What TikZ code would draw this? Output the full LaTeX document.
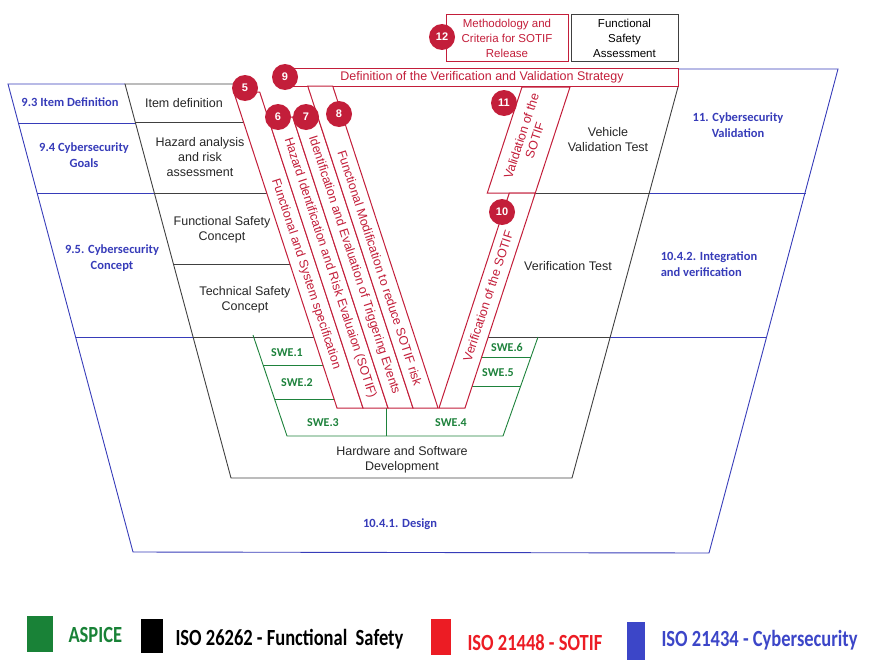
\documentclass[tikz,border=0pt]{standalone}
\usepackage{graphicx}
\usepackage{fontspec}
\setmainfont{Liberation Sans}
\newfontfamily\calfont{Carlito}
\usepackage{tikz}
\usetikzlibrary{positioning}

\definecolor{sotifred}{RGB}{195,30,58}
\definecolor{cybblue}{RGB}{55,60,185}
\definecolor{aspgreen}{RGB}{30,130,60}
\definecolor{legred}{RGB}{236,28,36}
\definecolor{legblue}{RGB}{60,70,200}
\definecolor{leggreen}{RGB}{25,130,55}
\newcommand{\tallify}[1]{\scalebox{1}[1.25]{#1}}

\begin{document}
\begin{tikzpicture}[x=1pt, y=-1pt,
    cyb/.style={draw=cybblue, line width=0.9pt},
    fusa/.style={draw=black!75, line width=0.9pt},
    asp/.style={draw=aspgreen, line width=0.9pt},
    bar/.style={draw=sotifred, line width=1pt, fill=white},
    num/.style={circle, fill=sotifred, minimum size=26pt, inner sep=0pt, text=white, font=\fontsize{11}{11}\selectfont\bfseries},
    fusatext/.style={align=center, text=black!85, font=\fontsize{12.5}{15}\selectfont},
    cybtext/.style={align=center, text=cybblue, font=\calfont\bfseries\fontsize{12.5}{15.5}\selectfont},
    asptext/.style={text=aspgreen, font=\calfont\bfseries\fontsize{12}{13}\selectfont},
    bartext/.style={align=center, text=sotifred, inner sep=0pt, font=\fontsize{12.5}{14}\selectfont},
    legtext/.style={anchor=west, font=\calfont\bfseries\fontsize{18.5}{19}\selectfont}
]
\useasboundingbox (0,0) rectangle (874,669);

% ISO 21434 frame
\draw[cyb] (125,84) -- (8,84) -- (133,552) -- (709,553) -- (838,69) -- (678,69);
\draw[cyb] (18,123) -- (135,123);
\draw[cyb] (37,193) -- (154,193);
\draw[cyb] (76,337) -- (193,337);
\draw[cyb] (650,193) -- (806,193);
\draw[cyb] (610,337) -- (767,337);

% ISO 26262 V
\draw[fusa] (234,84) -- (125,84) -- (231,478) -- (572,478) -- (678,87);
\draw[fusa] (135,122) -- (243,122);
\draw[fusa] (155,193) -- (267,193);
\draw[fusa] (174,264) -- (290,264);
\draw[fusa] (193,337) -- (314,337);
\draw[fusa] (535,193) -- (650,193);
\draw[fusa] (488,337) -- (610,337);

% ASPICE
\draw[asp] (253,335) -- (287,436) -- (503,436) -- (538,337);
\draw[asp] (263,365) -- (323,365);
\draw[asp] (275,399) -- (334,399);
\draw[asp] (386,408) -- (386,436);
\draw[asp] (482,357) -- (531,357);
\draw[asp] (472,386) -- (521,386);

% ISO 21448 bars
\draw[bar] (285,68) rectangle (678,86);
\draw[bar] (233.7,92) -- (259.7,92) -- (363,408) -- (337,408) -- cycle;
\draw[bar] (267.8,117) -- (292.8,117) -- (388,408) -- (363,408) -- cycle;
\draw[bar] (292.8,117) -- (317.8,117) -- (413,408) -- (388,408) -- cycle;
\draw[bar] (307.7,86) -- (332.7,86) -- (438,408) -- (413,408) -- cycle;
\draw[bar] (522,87) -- (570,87) -- (535.3,193) -- (487.3,193) -- cycle;
\draw[bar] (509.3,193) -- (535.3,193) -- (465,408) -- (439,408) -- cycle;

\node[bartext] (strategy) at (482,77) {Definition of the Verification and Validation Strategy};
\node[bartext, rotate=-71.9] (spec) at (306,274) {Functional and System specification};
\node[bartext, rotate=-71.9] (hara) at (330,268) {Hazard Identification and Risk Evaluaion (SOTIF)};
\node[bartext, rotate=-71.9] (trig) at (354,265) {Identification and Evaluation of Triggering Events};
\node[bartext, rotate=-71.9] (modif) at (380,268) {Functional Modification to reduce SOTIF risk};
\node[bartext, rotate=71.9] (verif) at (488,296) {Verification of the SOTIF};
\node[bartext, rotate=71.9] (valid) at (528,138) {Validation of the\\SOTIF};

\node[num] (n5) at (245,88) {5};
\node[num] (n6) at (278,117) {6};
\node[num] (n7) at (306,117) {7};
\node[num] (n8) at (339,114) {8};
\node[num] (n9) at (285,77) {9};
\node[num] (n10) at (502,212) {10};
\node[num] (n11) at (504,103) {11};

% release boxes
\node[draw=sotifred, line width=1pt, minimum width=122pt, minimum height=46pt, align=center, text=sotifred, font=\fontsize{11.5}{15}\selectfont] (release) at (507,38) {Methodology and\\Criteria for SOTIF\\Release};
\node[draw=black!75, line width=1pt, minimum width=107pt, minimum height=46pt, align=center, font=\fontsize{11.5}{15}\selectfont] (fsa) at (624.5,38) {Functional\\Safety\\Assessment};
\node[num] (n12) at (442,37) {12};

% ISO 26262 texts
\node[fusatext] (itemdef) at (184,103) {Item definition};
\node[fusatext] (hazard) at (200,157) {Hazard analysis\\and risk\\assessment};
\node[fusatext] (fsc) at (222,230) {Functional Safety\\Concept};
\node[fusatext] (tsc) at (245,300) {Technical Safety\\Concept};
\node[fusatext] (hwsw) at (402,460) {Hardware and Software\\Development};
\node[fusatext] (vvt) at (608,140) {Vehicle\\Validation Test};
\node[fusatext] (vtest) at (568,266) {Verification Test};

% ISO 21434 texts
\node[cybtext] (c93) at (70,102) {9.3 Item Definition};
\node[cybtext] (c94) at (84,155) {9.4 Cybersecurity\\Goals};
\node[cybtext] (c95) at (112,258) {9.5. Cybersecurity\\Concept};
\node[cybtext] (c11) at (738,125) {11. Cybersecurity\\Validation};
\node[cybtext, align=left] (c1042) at (709,264) {10.4.2. Integration\\and verification};
\node[cybtext] (c1041) at (400,524) {10.4.1. Design};

% ASPICE texts
\node[asptext] (swe1) at (287,353) {SWE.1};
\node[asptext] (swe2) at (297,383) {SWE.2};
\node[asptext] (swe3) at (323,423) {SWE.3};
\node[asptext] (swe4) at (451,423) {SWE.4};
\node[asptext] (swe5) at (498,373) {SWE.5};
\node[asptext] (swe6) at (507,347) {SWE.6};

% legend
\fill[leggreen] (27,616) rectangle (53,652);
\fill[black] (141,619) rectangle (163,653);
\fill[legred] (431,619) rectangle (451,655);
\fill[legblue] (627,622) rectangle (645,660);
\node[legtext, text=leggreen] (lasp) at (65,635) {\tallify{ASPICE}};
\node[legtext, text=black] (lfusa) at (172,639) {\tallify{ISO 26262 - Functional\ \ Safety}};
\node[legtext, text=legred] (lsotif) at (464,643) {\tallify{ISO 21448 - SOTIF}};
\node[legtext, text=legblue] (lcyb) at (658,640) {\tallify{ISO 21434 - Cybersecurity}};

\end{tikzpicture}
\end{document}
